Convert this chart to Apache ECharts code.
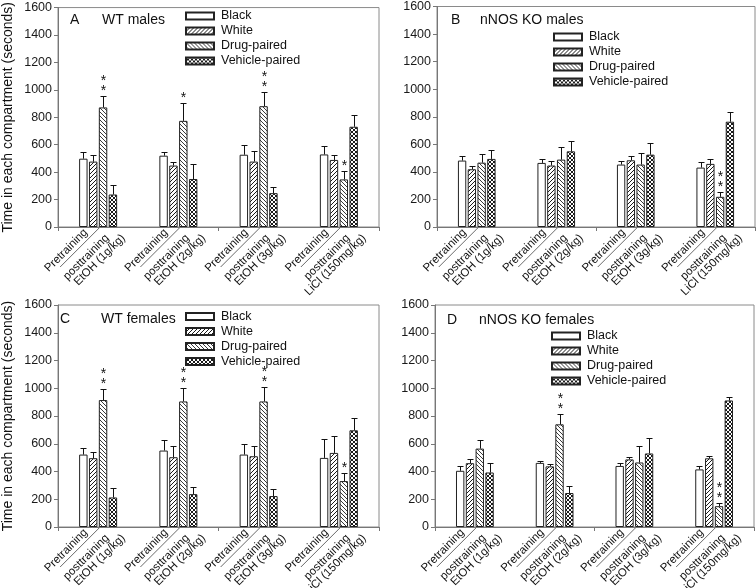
<!DOCTYPE html>
<html><head><meta charset="utf-8">
<script src="https://cdn.jsdelivr.net/npm/echarts@6/dist/echarts.min.js"></script>
<style>html,body{margin:0;padding:0;background:#fff}#c{width:756px;height:588px}</style>
</head><body><div id="c"></div>
<script>
// ---------- DATA ----------
const groups = ['EtOH (1g/kg)', 'EtOH (2g/kg)', 'EtOH (3g/kg)', 'LiCl (150mg/kg)'];
const seriesNames = ['Black', 'White', 'Drug-paired', 'Vehicle-paired'];
const phaseLabels = ['Pretraining', 'posttraining'];
const yMin = 0, yMax = 1600, yStep = 200;
const yTitle = 'Time in each compartment (seconds)';

// Panel A: WT males
const aBlack = [498, 520, 527, 529],   aBlackSem = [48, 28, 72, 63];
const aWhite = [477, 448, 477, 489],   aWhiteSem = [50, 26, 74, 38];
const aDrug  = [872, 774, 881, 347],   aDrugSem  = [86, 127, 106, 63];
const aVeh   = [237, 350, 247, 731],   aVehSem   = [72, 112, 45, 86];
const aStars = [2, 1, 2, 1];
// Panel B: nNOS KO males
const bBlack = [482, 465, 453, 431],   bBlackSem = [31, 31, 29, 41];
const bWhite = [419, 446, 484, 458],   bWhiteSem = [24, 36, 32, 36];
const bDrug  = [467, 489, 453, 219],   bDrugSem  = [65, 92, 82, 34];
const bVeh   = [494, 549, 525, 764],   bVehSem   = [63, 75, 87, 70];
const bStars = [0, 0, 0, 2];
// Panel C: WT females
const cBlack = [522, 551, 522, 498],   cBlackSem = [50, 77, 79, 134];
const cWhite = [496, 503, 510, 534],   cWhiteSem = [41, 84, 74, 122];
const cDrug  = [915, 905, 905, 331],   cDrugSem  = [79, 99, 106, 57];
const cVeh   = [213, 237, 223, 697],   cVehSem   = [65, 50, 52, 86];
const cStars = [2, 2, 2, 1];
// Panel D: nNOS KO females
const dBlack = [405, 462, 440, 415],   dBlackSem = [32, 16, 18, 27];
const dWhite = [460, 437, 487, 495],   dWhiteSem = [33, 14, 20, 17];
const dDrug  = [565, 740, 465, 150],   dDrugSem  = [63, 78, 118, 22];
const dVeh   = [393, 245, 530, 912],   dVehSem   = [70, 47, 115, 27];
const dStars = [0, 2, 0, 2];

const panelLetters = ['A', 'B', 'C', 'D'];
const panelNames = ['WT males', 'nNOS KO males', 'WT females', 'nNOS KO females'];

const panels = [
  {means: [aBlack, aWhite, aDrug, aVeh], sems: [aBlackSem, aWhiteSem, aDrugSem, aVehSem], stars: aStars},
  {means: [bBlack, bWhite, bDrug, bVeh], sems: [bBlackSem, bWhiteSem, bDrugSem, bVehSem], stars: bStars},
  {means: [cBlack, cWhite, cDrug, cVeh], sems: [cBlackSem, cWhiteSem, cDrugSem, cVehSem], stars: cStars},
  {means: [dBlack, dWhite, dDrug, dVeh], sems: [dBlackSem, dWhiteSem, dDrugSem, dVehSem], stars: dStars}
];

// ---------- LAYOUT / STYLE ----------
const FONT = '"Liberation Sans", Arial, Helvetica, sans-serif';
const layout = [
  {left: 58,  top: 5,   width: 321, height: 222, legL: 185, legT: 8.5,  letterX: 70,  nameX: 102, titleY: 20,  yName: true},
  {left: 437, top: 5,   width: 318, height: 222, legL: 553, legT: 29.5, letterX: 451, nameX: 480, titleY: 20,  yName: false},
  {left: 57,  top: 305, width: 322, height: 222, legL: 185, legT: 309,  letterX: 60,  nameX: 101, titleY: 319, yName: true},
  {left: 435, top: 305, width: 319, height: 222, legL: 551, legT: 328.5,letterX: 447, nameX: 479, titleY: 320, yName: false}
];
const BAR_W = 0.105, BAR_GAP = 0.17;

function makePattern(kind) {
  const c = document.createElement('canvas');
  c.width = 4; c.height = 4;
  const ctx = c.getContext('2d');
  ctx.fillStyle = '#fff'; ctx.fillRect(0, 0, 4, 4);
  if (kind === 'plain') return '#ffffff';
  for (let i = 0; i < 4; i++) {
    if (kind === 'fwd' || kind === 'cross') { ctx.fillStyle = '#1a1a1a'; ctx.fillRect(i, 3 - i, 1, 1); }
    if (kind === 'back' || kind === 'cross') { ctx.fillStyle = kind === 'back' ? '#3a3a3a' : '#1a1a1a'; ctx.fillRect(i, i, 1, 1); }
  }
  return {image: c, repeat: 'repeat'};
}
const fills = [makePattern('plain'), makePattern('fwd'), makePattern('back'), makePattern('cross')];

function errRender(i) {
  return function (params, api) {
    const cat = api.value(0), mean = api.value(1), top = api.value(2), stars = api.value(3);
    const p0 = api.coord([cat, mean]);
    const p1 = api.coord([cat, top]);
    const catW = api.size([1, 0])[0];
    const bw = catW * BAR_W, gap = bw * BAR_GAP;
    const x = Math.round(p0[0] + (i - 1.5) * (bw + gap)) + 0.5;
    const yt = Math.round(p1[1]) + 0.5;
    const ch = [
      {type: 'line', shape: {x1: x, y1: p0[1], x2: x, y2: yt}, style: {stroke: '#111', lineWidth: 1}},
      {type: 'line', shape: {x1: x - 3, y1: yt, x2: x + 3, y2: yt}, style: {stroke: '#111', lineWidth: 1}}
    ];
    for (let s = 0; s < stars; s++) {
      ch.push({type: 'text', x: x, y: yt - 5 - 10 * s,
        style: {text: '*', fontSize: 14, fontFamily: FONT, fill: '#111', align: 'center', verticalAlign: 'middle'}});
    }
    return {type: 'group', children: ch};
  };
}

const option = {
  backgroundColor: '#fff',
  animation: false,
  grid: [], xAxis: [], yAxis: [], legend: [], series: []
};

panels.forEach((p, g) => {
  const L = layout[g];
  option.grid.push({left: L.left, top: L.top, width: L.width, height: L.height, show: true,
    borderColor: '#8a8a8a', borderWidth: 1, backgroundColor: 'transparent'});
  option.xAxis.push({type: 'category', gridIndex: g, data: groups, boundaryGap: true,
    axisLine: {lineStyle: {color: '#777'}},
    axisTick: {show: true, length: 4, lineStyle: {color: '#777'}},
    axisLabel: {show: false}, splitLine: {show: false}});
  option.yAxis.push({type: 'value', gridIndex: g, min: yMin, max: yMax, interval: yStep,
    name: L.yName ? yTitle : '', nameLocation: 'middle', nameGap: 43,
    nameTextStyle: {fontSize: 14, fontFamily: FONT, color: '#111'},
    axisLine: {show: true, lineStyle: {color: '#777'}},
    axisTick: {show: true, length: 4, lineStyle: {color: '#777'}},
    axisLabel: {fontSize: 12.5, fontFamily: FONT, color: '#1a1a1a', margin: 6, formatter: v => String(v)},
    splitLine: {show: false}});
  option.legend.push({orient: 'vertical', left: L.legL, top: L.legT, padding: 0,
    itemWidth: 28, itemHeight: 7, itemGap: 0, icon: 'rect', selectedMode: false,
    data: seriesNames,
    textStyle: {fontSize: 12.5, lineHeight: 15, fontFamily: FONT, color: '#111', padding: [0, 0, 0, 2]}});
  seriesNames.forEach((nm, i) => {
    option.series.push({type: 'bar', name: nm, xAxisIndex: g, yAxisIndex: g,
      data: p.means[i], barWidth: (BAR_W * 100) + '%', barGap: (BAR_GAP * 100) + '%',
      itemStyle: {color: fills[i], borderColor: '#222', borderWidth: 1}});
  });
  seriesNames.forEach((nm, i) => {
    option.series.push({type: 'custom', name: nm + ' SEM', xAxisIndex: g, yAxisIndex: g, z: 5,
      renderItem: errRender(i), clip: false,
      encode: {x: 0, y: [1, 2]},
      data: p.means[i].map((m, k) => [k, m, m + p.sems[i][k], i === 2 ? p.stars[k] : 0])});
  });
});

const chart = echarts.init(document.getElementById('c'), null, {renderer: 'canvas'});
chart.setOption(option);

// ---------- TEXT OVERLAYS (positions from axis scales) ----------
const gfx = [];
panels.forEach((p, g) => {
  const L = layout[g];
  gfx.push({type: 'text', x: L.letterX, y: L.titleY,
    style: {text: panelLetters[g], fontSize: 14, fontFamily: FONT, fill: '#111', verticalAlign: 'middle'}});
  gfx.push({type: 'text', x: L.nameX, y: L.titleY,
    style: {text: panelNames[g], fontSize: 14, fontFamily: FONT, fill: '#111', verticalAlign: 'middle'}});
  groups.forEach((grp, k) => {
    const pt = chart.convertToPixel({gridIndex: g}, [k, 0]);
    const cx = pt[0], ay = pt[1];
    const lab = [
      {t: phaseLabels[0], dx: -8, dy: 8, va: 'bottom'},
      {t: phaseLabels[1], dx: 5, dy: 5, va: 'top'},
      {t: grp, dx: 21, dy: 5, va: 'top'}
    ];
    lab.forEach(o => gfx.push({type: 'text', x: cx + o.dx, y: ay + o.dy, rotation: Math.PI / 4,
      style: {text: o.t, fontSize: 11.5, fontFamily: FONT, fill: '#111', align: 'right', verticalAlign: o.va}}));
    gfx.push({type: 'line', shape: {x1: cx + 1, y1: ay + 1, x2: cx - 38, y2: ay + 40},
      style: {stroke: '#444', lineWidth: 0.8}});
  });
});
chart.setOption({graphic: gfx});
</script>
</body></html>
